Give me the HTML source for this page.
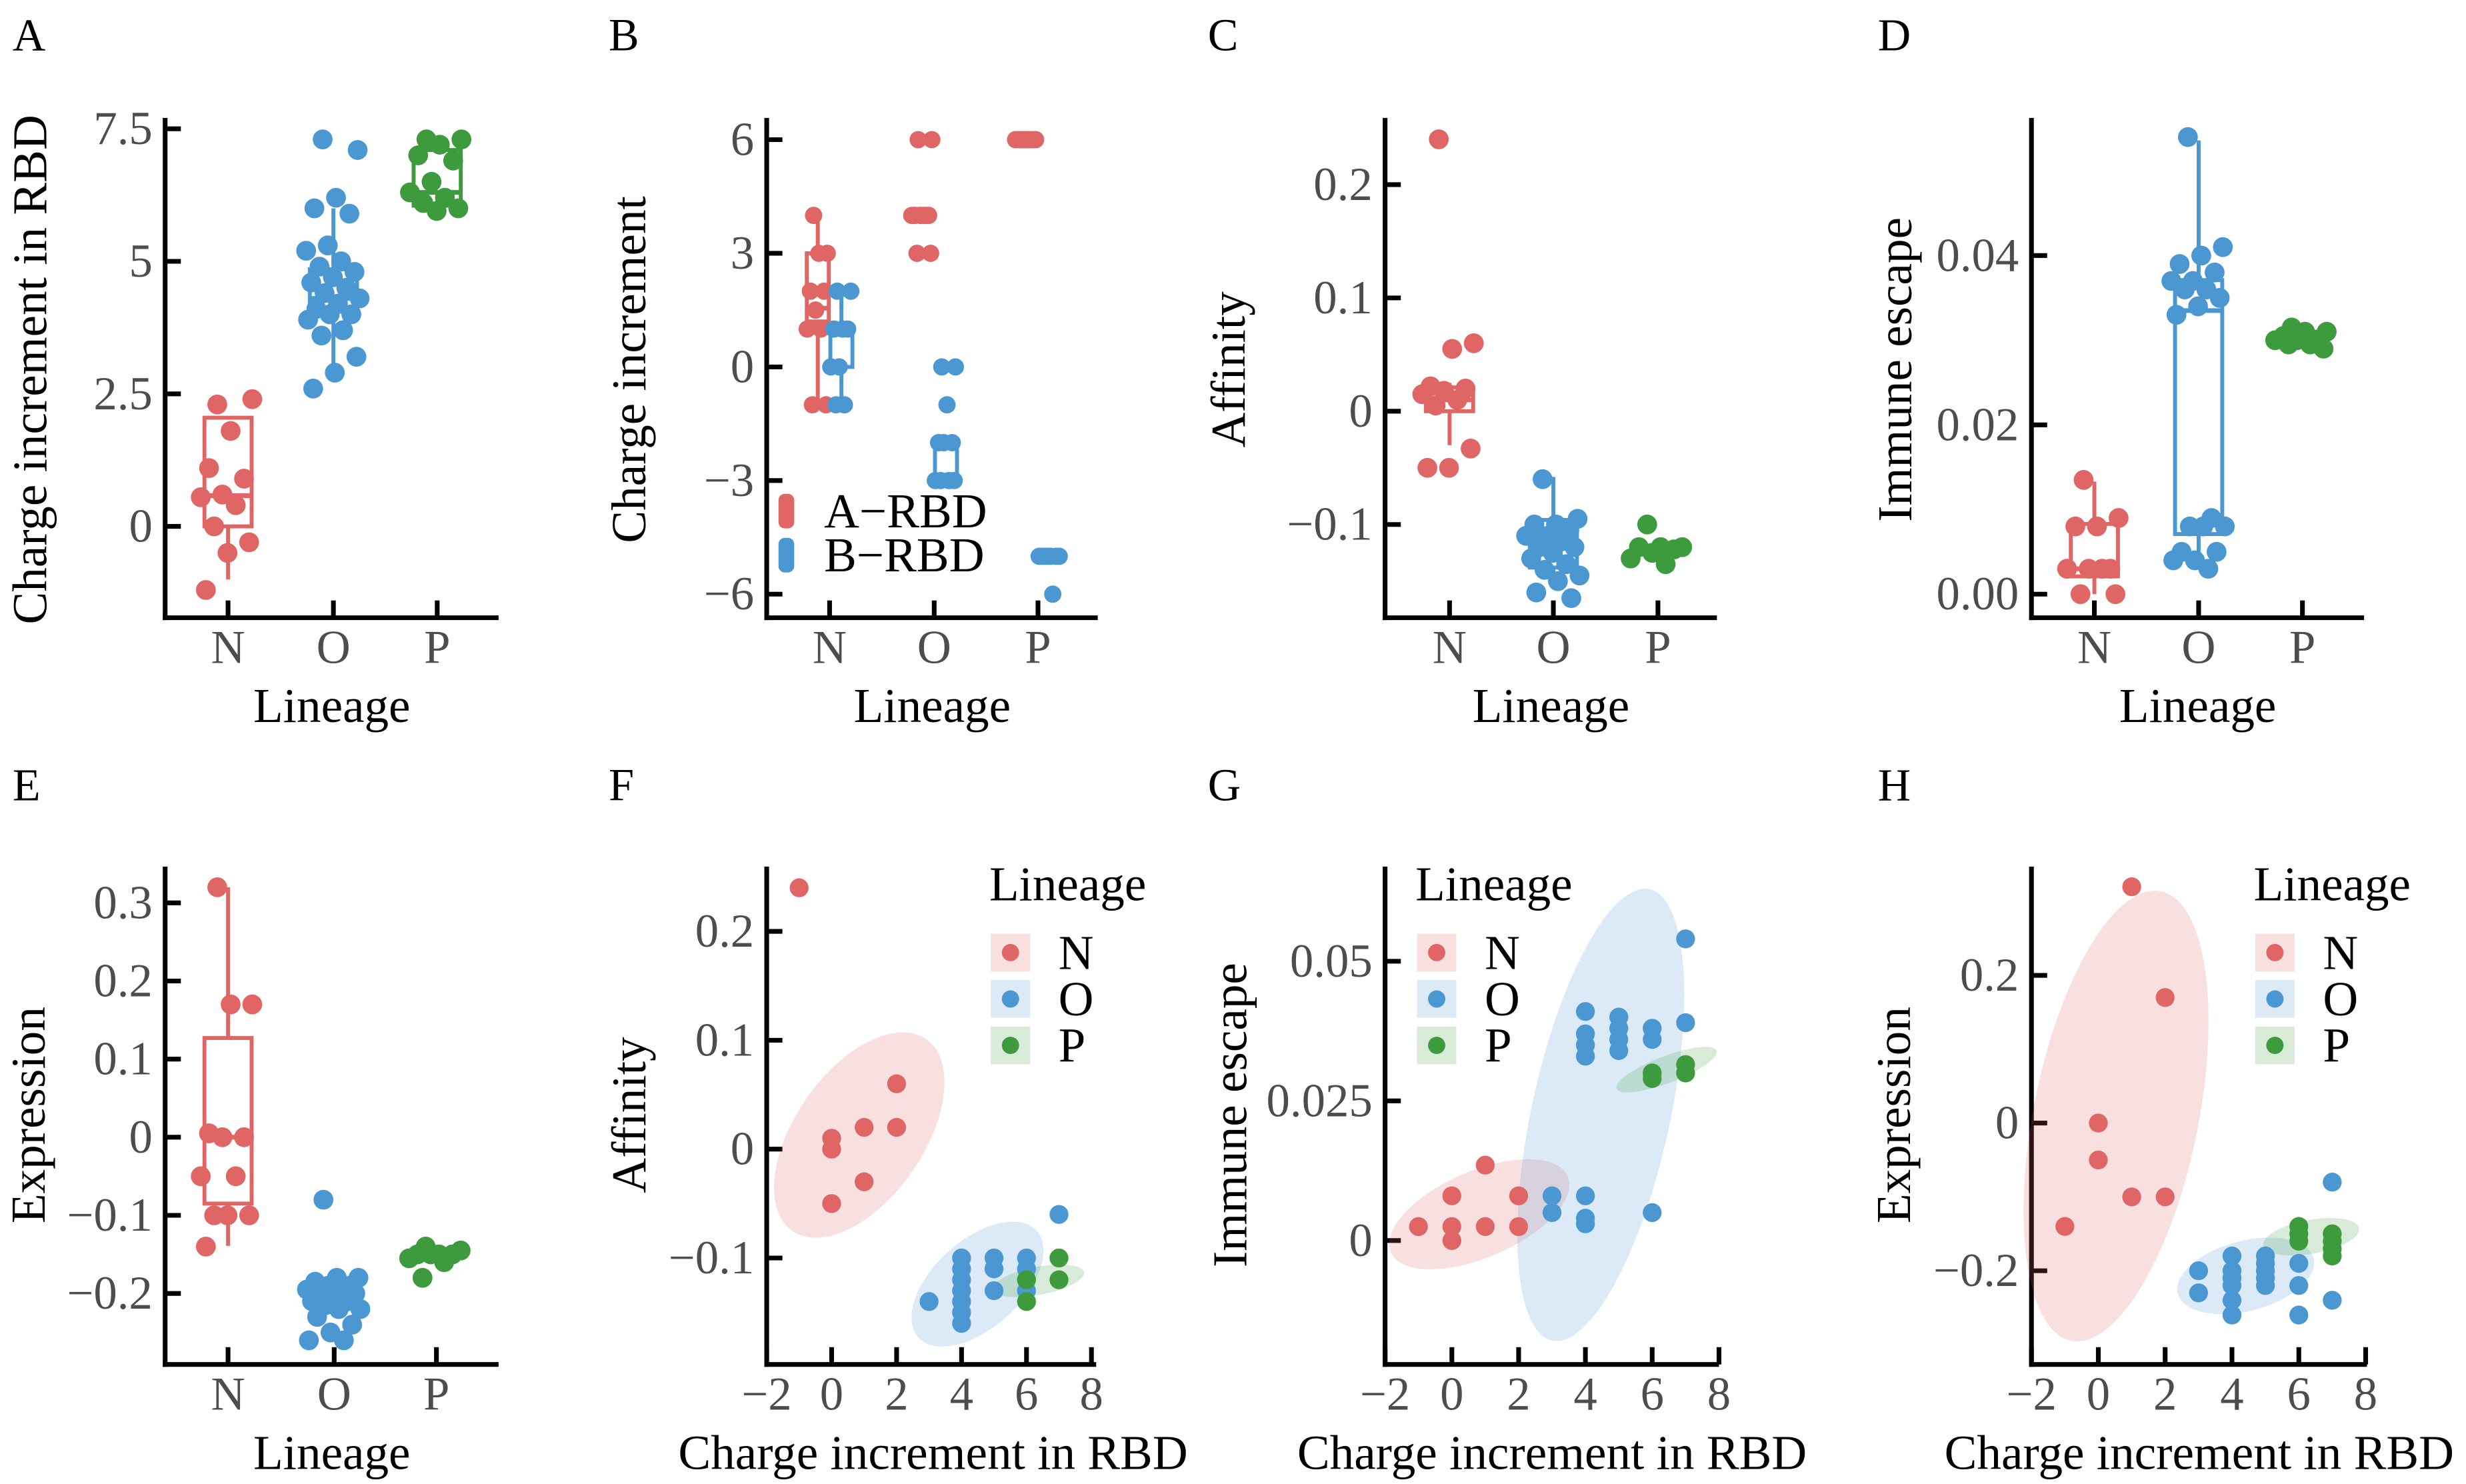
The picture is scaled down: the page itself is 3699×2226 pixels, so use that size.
<!DOCTYPE html>
<html><head><meta charset="utf-8"><style>
html,body{margin:0;padding:0;background:#fff;}
svg{display:block;font-family:"Liberation Serif","Times New Roman",serif;}
svg text{font-family:"Liberation Serif","Times New Roman",serif;}
</style></head><body>
<svg id="chart" xmlns="http://www.w3.org/2000/svg" width="3699" height="2226" viewBox="0 0 1568 943.6" preserveAspectRatio="none" font-family="Liberation Serif, serif">
<rect x="0" y="0" width="1568" height="943.6" fill="#fff"/>
<g font-size="29" fill="#000">
<text x="8" y="32">A</text>
<text x="387" y="32">B</text>
<text x="768" y="32">C</text>
<text x="1194" y="32">D</text>
<text x="8" y="509">E</text>
<text x="387" y="509">F</text>
<text x="768" y="509">G</text>
<text x="1194" y="509">H</text>
</g>
</svg>
<script>
// ---------- data ----------
const categories=['N','O','P'];
const A_N=[2.3,2.4,1.8,1.1,0.9,0.6,0.55,0.4,0.0,-0.3,-0.5,-1.2];
const A_O=[7.3,7.1,6.2,6.0,5.9,5.3,5.2,5.0,4.9,4.8,4.7,4.6,4.5,4.4,4.3,4.2,4.1,4.0,4.0,3.9,3.7,3.6,3.2,2.9,2.6];
const A_P=[7.3,7.3,7.2,7.0,6.9,6.5,6.3,6.2,6.1,6.0,5.95];
const A_box=[[-1.0,0.0,0.58,2.05,2.05],[3.05,4.05,4.3,4.85,6.0],[5.95,6.05,6.3,7.1,7.3]];
const A_ticks=[0,2.5,5,7.5];
const A_tickLabels=['0','2.5','5','7.5'];

const B_A_N=[4,3,3,2,2,1.5,1,1,-1,-1];
const B_B_N=[2,2,1,1,1,0,0,-1,-1];
const B_A_O=[6,6,4,4,4,4,4,4,3,3];
const B_B_O=[0,0,-1,-2,-2,-2,-3,-3,-3,-3];
const B_A_P=[6,6,6,6,6,6,6,6];
const B_B_P=[-5,-5,-5,-5,-5,-5,-5,-6];
const B_boxA=[[-1,1.2,1.55,3,3.9],[4,4,4,4,4],[6,6,6,6,6]];
const B_boxB=[[-1,0,1,1.05,2],[-1,-3,-2.1,-2,-1],[-5,-5,-5,-5,-5]];
const B_ticks=[-6,-3,0,3,6];
const B_tickLabels=['−6','−3','0','3','6'];

const C_N=[0.24,0.06,0.055,0.022,0.02,0.018,0.015,0.01,0.005,-0.033,-0.05,-0.05];
const C_O=[-0.06,-0.095,-0.1,-0.1,-0.105,-0.11,-0.11,-0.115,-0.12,-0.12,-0.125,-0.13,-0.135,-0.14,-0.145,-0.15,-0.16,-0.165];
const C_P=[-0.1,-0.12,-0.12,-0.12,-0.122,-0.125,-0.13,-0.135];
const C_box=[[-0.03,0,0.01,0.021,0.025],[-0.15,-0.138,-0.11,-0.096,-0.058],[-0.13,-0.125,-0.122,-0.12,-0.115]];
const C_ticks=[-0.1,0,0.1,0.2];
const C_tickLabels=['−0.1','0','0.1','0.2'];

const D_N=[0.0135,0.009,0.008,0.008,0.003,0.003,0.003,0.003,0.0,0.0];
const D_O=[0.054,0.041,0.04,0.039,0.038,0.037,0.037,0.036,0.036,0.035,0.034,0.033,0.009,0.008,0.008,0.008,0.005,0.005,0.004,0.004,0.003];
const D_P=[0.0315,0.031,0.031,0.0305,0.030,0.030,0.030,0.0295,0.0295,0.029];
const D_box=[[0,0.0021,0.003,0.0083,0.0133],[0.003,0.0071,0.0335,0.0371,0.0536],[0.029,0.0295,0.030,0.031,0.0315]];
const D_ticks=[0,0.02,0.04];
const D_tickLabels=['0.00','0.02','0.04'];

const E_N=[0.32,0.17,0.17,0.005,0.0,0.0,-0.05,-0.05,-0.1,-0.1,-0.1,-0.14];
const E_O=[-0.08,-0.18,-0.18,-0.185,-0.19,-0.19,-0.195,-0.2,-0.2,-0.2,-0.205,-0.21,-0.21,-0.215,-0.22,-0.22,-0.23,-0.24,-0.25,-0.26,-0.26];
const E_P=[-0.14,-0.145,-0.15,-0.15,-0.15,-0.15,-0.155,-0.16,-0.18];
const E_box=[[-0.139,-0.085,0,0.127,0.32],[-0.23,-0.215,-0.2,-0.19,-0.18],[-0.16,-0.155,-0.15,-0.15,-0.145]];
const E_ticks=[-0.2,-0.1,0,0.1,0.2,0.3];
const E_tickLabels=['−0.2','−0.1','0','0.1','0.2','0.3'];

const X_ticks=[-2,0,2,4,6,8];
const X_tickLabels=['−2','0','2','4','6','8'];

const F_Nx=[-1,0,0,0,1,1,2,2];
const F_Ny=[0.24,0.01,0.0,-0.05,0.02,-0.03,0.06,0.02];
const F_Ox=[3,4,4,4,4,4,4,4,5,5,5,6,6,6,6,7];
const F_Oy=[-0.14,-0.1,-0.11,-0.12,-0.13,-0.14,-0.15,-0.16,-0.1,-0.11,-0.13,-0.1,-0.11,-0.12,-0.13,-0.06];
const F_Px=[6,6,7,7];
const F_Py=[-0.12,-0.14,-0.1,-0.12];
const F_ellipses=[[0.85,0.0129,2.91,0.101,0.55],[4.49,-0.124,6.31,-0.075,0.55],[6.36,-0.121,7.77,-0.113,0.3]];
const F_ticks=[-0.1,0,0.1,0.2];
const F_tickLabels=['−0.1','0','0.1','0.2'];

const G_Nx=[-1,0,0,0,1,1,2,2];
const G_Ny=[0.0025,0.008,0.0025,0.0,0.0135,0.0025,0.008,0.0025];
const G_Ox=[3,3,4,4,4,4,4,4,4,5,5,5,5,6,6,6,7,7];
const G_Oy=[0.008,0.005,0.008,0.004,0.003,0.041,0.037,0.035,0.033,0.04,0.038,0.036,0.034,0.038,0.036,0.005,0.054,0.039];
const G_Px=[6,6,7,7];
const G_Py=[0.030,0.029,0.0315,0.030];
const G_ellipses=[[0.82,0.0047,3.47,0.0115,0.45],[4.46,0.0225,5.92,0.0629,0.3],[6.43,0.0306,7.93,0.034,0.25]];
const G_ticks=[0,0.025,0.05];
const G_tickLabels=['0','0.025','0.05'];

const H_Nx=[-1,0,0,1,1,2,2];
const H_Ny=[-0.14,0,-0.05,0.32,-0.1,0.17,-0.1];
const H_Ox=[3,3,4,4,4,4,4,4,5,5,5,5,5,6,6,6,7,7];
const H_Oy=[-0.2,-0.23,-0.18,-0.2,-0.21,-0.22,-0.24,-0.26,-0.18,-0.19,-0.2,-0.21,-0.22,-0.19,-0.22,-0.26,-0.08,-0.24];
const H_Px=[6,6,6,7,7,7,7];
const H_Py=[-0.14,-0.15,-0.16,-0.15,-0.16,-0.17,-0.18];
const H_ellipses=[[0.53,0.0096,1.87,0.314,0.36],[4.41,-0.207,6.44,-0.183,0.5],[6.37,-0.154,7.8,-0.1425,0.35]];
const H_ticks=[-0.2,0,0.2];
const H_tickLabels=['−0.2','0','0.2'];

// ---------- drawing ----------
const NS='http://www.w3.org/2000/svg';
const svg=document.getElementById('chart');
const COL=['#E06666','#4B97D2','#3D9B3D'];
function mk(tag,attrs,parent){const e=document.createElementNS(NS,tag);for(const k in attrs)e.setAttribute(k,attrs[k]);(parent||svg).appendChild(e);return e;}
function lin(d0,d1,r0,r1){return v=>r0+(v-d0)*(r1-r0)/(d1-d0);}
function jit(i,w){const f=(i*0.6180339887+0.31)%1;return (f-0.5)*2*w;}

function axes(p,id){
  const g=mk('g',{});
  
  
  const ya=mk('line',{x1:p.x0,y1:p.yTop,x2:p.x0,y2:p.yBot+1.5,stroke:'#000','stroke-width':3},g);
  
  
  const xa=mk('line',{x1:p.x0-1.5,y1:p.yBot,x2:p.x1,y2:p.yBot,stroke:'#000','stroke-width':3},g);
  
  
  p.yTicks.forEach((v,i)=>{
    const y=p.ymap(v);
    const t=mk('line',{x1:p.x0,y1:y,x2:p.x0+10,y2:y,stroke:'#000','stroke-width':3},g);
    
    
    const l=mk('text',{x:p.x0-8,y:y,'text-anchor':'end','dominant-baseline':'central','font-size':30,fill:'#4d4d4d'},g);
    l.textContent=p.yLabels[i];
    
    
  });
  p.xTickPos.forEach((x,i)=>{
    const t=mk('line',{x1:x,y1:p.yBot,x2:x,y2:p.yBot-11,stroke:'#000','stroke-width':3},g);
    
    
    const l=mk('text',{x:x,y:p.yBot+19,'text-anchor':'middle','dominant-baseline':'central','font-size':30,fill:'#4d4d4d'},g);
    l.textContent=p.xLabels[i];
    
    
  });
  const xt=mk('text',{x:(p.x0+p.x1)/2+p.xtOff,y:p.yBot+56,'text-anchor':'middle','dominant-baseline':'central','font-size':31,fill:'#000'},g);
  xt.textContent=p.xTitle;
  
  
  const yt=mk('text',{x:0,y:0,transform:'translate('+p.ytx+','+p.yty+') rotate(-90)','text-anchor':'middle','dominant-baseline':'central','font-size':31,fill:'#000'},g);
  yt.textContent=p.yTitle;
  
  
}

function box(g,x,s,ymap,w,color,id){
  const wh=mk('line',{x1:x,y1:ymap(s[0]),x2:x,y2:ymap(s[4]),stroke:color,'stroke-width':2.5},g);
  
  
  const r=mk('rect',{x:x-w/2,y:ymap(s[3]),width:w,height:Math.max(0.5,ymap(s[1])-ymap(s[3])),fill:'#fff',stroke:color,'stroke-width':2.5},g);
  
  
  const m=mk('line',{x1:x-w/2,y1:ymap(s[2]),x2:x+w/2,y2:ymap(s[2]),stroke:color,'stroke-width':3},g);
  
  
}
function dots(g,x,vals,ymap,jw,color,r,id){
  vals.forEach((v,i)=>{
    const c=mk('circle',{cx:x+jit(i,jw),cy:ymap(v),r:r,fill:color},g);
    
    
  });
}
function catPanel(p,id,groups,boxes){
  axes(p,id);
  const g=mk('g',{});
  
  
  groups.forEach((vals,k)=>{
    box(g,p.xTickPos[k],boxes[k],p.ymap,30,COL[k],id+'-'+categories[k]);
  });
  groups.forEach((vals,k)=>{
    dots(g,p.xTickPos[k],vals,p.ymap,18,COL[k],6.3,id+'-'+categories[k]);
  });
}
function scatPanel(p,id,xs,ys,ells){
  axes(p,id);
  const g=mk('g',{});
  
  
  ells.forEach((e,k)=>{
    const cx=p.xmap(e[0]),cy=p.ymap(e[1]),ex=p.xmap(e[2]),ey=p.ymap(e[3]);
    const a=Math.hypot(ex-cx,ey-cy),ang=Math.atan2(ey-cy,ex-cx)*180/Math.PI;
    const el=mk('ellipse',{cx:cx,cy:cy,rx:a,ry:a*e[4],fill:COL[k],'fill-opacity':0.2,transform:'rotate('+ang+','+cx+','+cy+')'},g);
    
    
  });
  xs.forEach((xv,k)=>{
    xv.forEach((x,i)=>{
      const c=mk('circle',{cx:p.xmap(x),cy:p.ymap(ys[k][i]),r:6,fill:COL[k]},g);
      
      
    });
  });
  const lg=mk('g',{});
  
  
  const tt=mk('text',{x:p.lx-1,y:562,'dominant-baseline':'central','font-size':31,fill:'#000'},lg);
  tt.textContent='Lineage';
  
  
  categories.forEach((c,k)=>{
    const y=605.7+k*29.5;
    const kr=mk('rect',{x:p.lx,y:y-12,width:25,height:24,fill:COL[k],'fill-opacity':0.2},lg);
    
    
    const kc=mk('circle',{cx:p.lx+12.5,cy:y,r:5.5,fill:COL[k]},lg);
    
    
    const kt=mk('text',{x:p.lx+43,y:y,'dominant-baseline':'central','font-size':31,fill:'#000'},lg);
    kt.textContent=c;
    
    
  });
}

const TOPY=75, TOPB=392.8, BOTY=551, BOTB=867.6;
catPanel({x0:105,x1:317,yTop:TOPY,yBot:TOPB,ymap:lin(0,7.5,334.7,81.9),yTicks:A_ticks,yLabels:A_tickLabels,xTickPos:[145,212,278],xLabels:categories,xTitle:'Lineage',xtOff:0,yTitle:'Charge increment in RBD',ytx:19,yty:235},'panel-a',[A_N,A_O,A_P],A_box);
catPanel({x0:880.7,x1:1091.7,yTop:TOPY,yBot:TOPB,ymap:lin(-0.1,0.2,333.5,117.4),yTicks:C_ticks,yLabels:C_tickLabels,xTickPos:[921.7,987.7,1054.2],xLabels:categories,xTitle:'Lineage',xtOff:0,yTitle:'Affinity',ytx:781,yty:235},'panel-c',[C_N,C_O,C_P],C_box);
catPanel({x0:1291.7,x1:1503.2,yTop:TOPY,yBot:TOPB,ymap:lin(0,0.04,377.8,162.5),yTicks:D_ticks,yLabels:D_tickLabels,xTickPos:[1331.7,1398,1464],xLabels:categories,xTitle:'Lineage',xtOff:0,yTitle:'Immune escape',ytx:1205,yty:235},'panel-d',[D_N,D_O,D_P],D_box);
catPanel({x0:105,x1:317,yTop:BOTY,yBot:BOTB,ymap:lin(0,0.3,723.1,574.1),yTicks:E_ticks,yLabels:E_tickLabels,xTickPos:[145,212.5,277.5],xLabels:categories,xTitle:'Lineage',xtOff:0,yTitle:'Expression',ytx:18,yty:709},'panel-e',[E_N,E_O,E_P],E_box);

(function(){
  const p={x0:487.5,x1:698,yTop:TOPY,yBot:TOPB,ymap:lin(-6,6,377.8,88.8),yTicks:B_ticks,yLabels:B_tickLabels,xTickPos:[527.5,594,660],xLabels:categories,xTitle:'Lineage',xtOff:0,yTitle:'Charge increment',ytx:400,yty:235};
  axes(p,'panel-b');
  const g=mk('g',{});
  
  
  const gA=[B_A_N,B_A_O,B_A_P], gB=[B_B_N,B_B_O,B_B_P];
  [0,1,2].forEach(k=>{
    box(g,p.xTickPos[k]-7.5,B_boxA[k],p.ymap,14,COL[0],'panel-b-a-rbd-'+categories[k]);
    box(g,p.xTickPos[k]+7.5,B_boxB[k],p.ymap,14,COL[1],'panel-b-b-rbd-'+categories[k]);
  });
  [0,1,2].forEach(k=>{
    dots(g,p.xTickPos[k]-7.5,gA[k],p.ymap,7,COL[0],5.5,'panel-b-a-rbd-'+categories[k]);
    dots(g,p.xTickPos[k]+7.5,gB[k],p.ymap,7,COL[1],5.5,'panel-b-b-rbd-'+categories[k]);
  });
  const lg=mk('g',{});
  
  
  ['A−RBD','B−RBD'].forEach((t,k)=>{
    const y=325+k*28;
    const kr=mk('rect',{x:495,y:y-11,width:10,height:22,rx:4,fill:COL[k]},lg);
    
    
    const kt=mk('text',{x:524,y:y,'dominant-baseline':'central','font-size':31,fill:'#000'},lg);
    kt.textContent=t;
    
    
  });
})();

scatPanel({x0:487.5,x1:697,yTop:BOTY,yBot:BOTB,xmap:lin(-2,8,487.5,694),ymap:lin(-0.1,0.2,799.9,592.2),yTicks:F_ticks,yLabels:F_tickLabels,xTickPos:X_ticks.map(lin(-2,8,487.5,694)),xLabels:X_tickLabels,xTitle:'Charge increment in RBD',xtOff:1,yTitle:'Affinity',ytx:400,yty:709,lx:630},'panel-f',[F_Nx,F_Ox,F_Px],[F_Ny,F_Oy,F_Py],F_ellipses);
scatPanel({x0:880.7,x1:1093,yTop:BOTY,yBot:BOTB,xmap:lin(-2,8,880.7,1093),ymap:lin(0,0.05,788.8,611.2),yTicks:G_ticks,yLabels:G_tickLabels,xTickPos:X_ticks.map(lin(-2,8,880.7,1093)),xLabels:X_tickLabels,xTitle:'Charge increment in RBD',xtOff:0,yTitle:'Immune escape',ytx:782,yty:709,lx:901},'panel-g',[G_Nx,G_Ox,G_Px],[G_Ny,G_Oy,G_Py],G_ellipses);
scatPanel({x0:1291.7,x1:1505,yTop:BOTY,yBot:BOTB,xmap:lin(-2,8,1291.7,1504.2),ymap:lin(-0.2,0.2,808,620.2),yTicks:H_ticks,yLabels:H_tickLabels,xTickPos:X_ticks.map(lin(-2,8,1291.7,1504.2)),xLabels:X_tickLabels,xTitle:'Charge increment in RBD',xtOff:0,yTitle:'Expression',ytx:1204,yty:709,lx:1434},'panel-h',[H_Nx,H_Ox,H_Px],[H_Ny,H_Oy,H_Py],H_ellipses);
</script>
</body></html>
